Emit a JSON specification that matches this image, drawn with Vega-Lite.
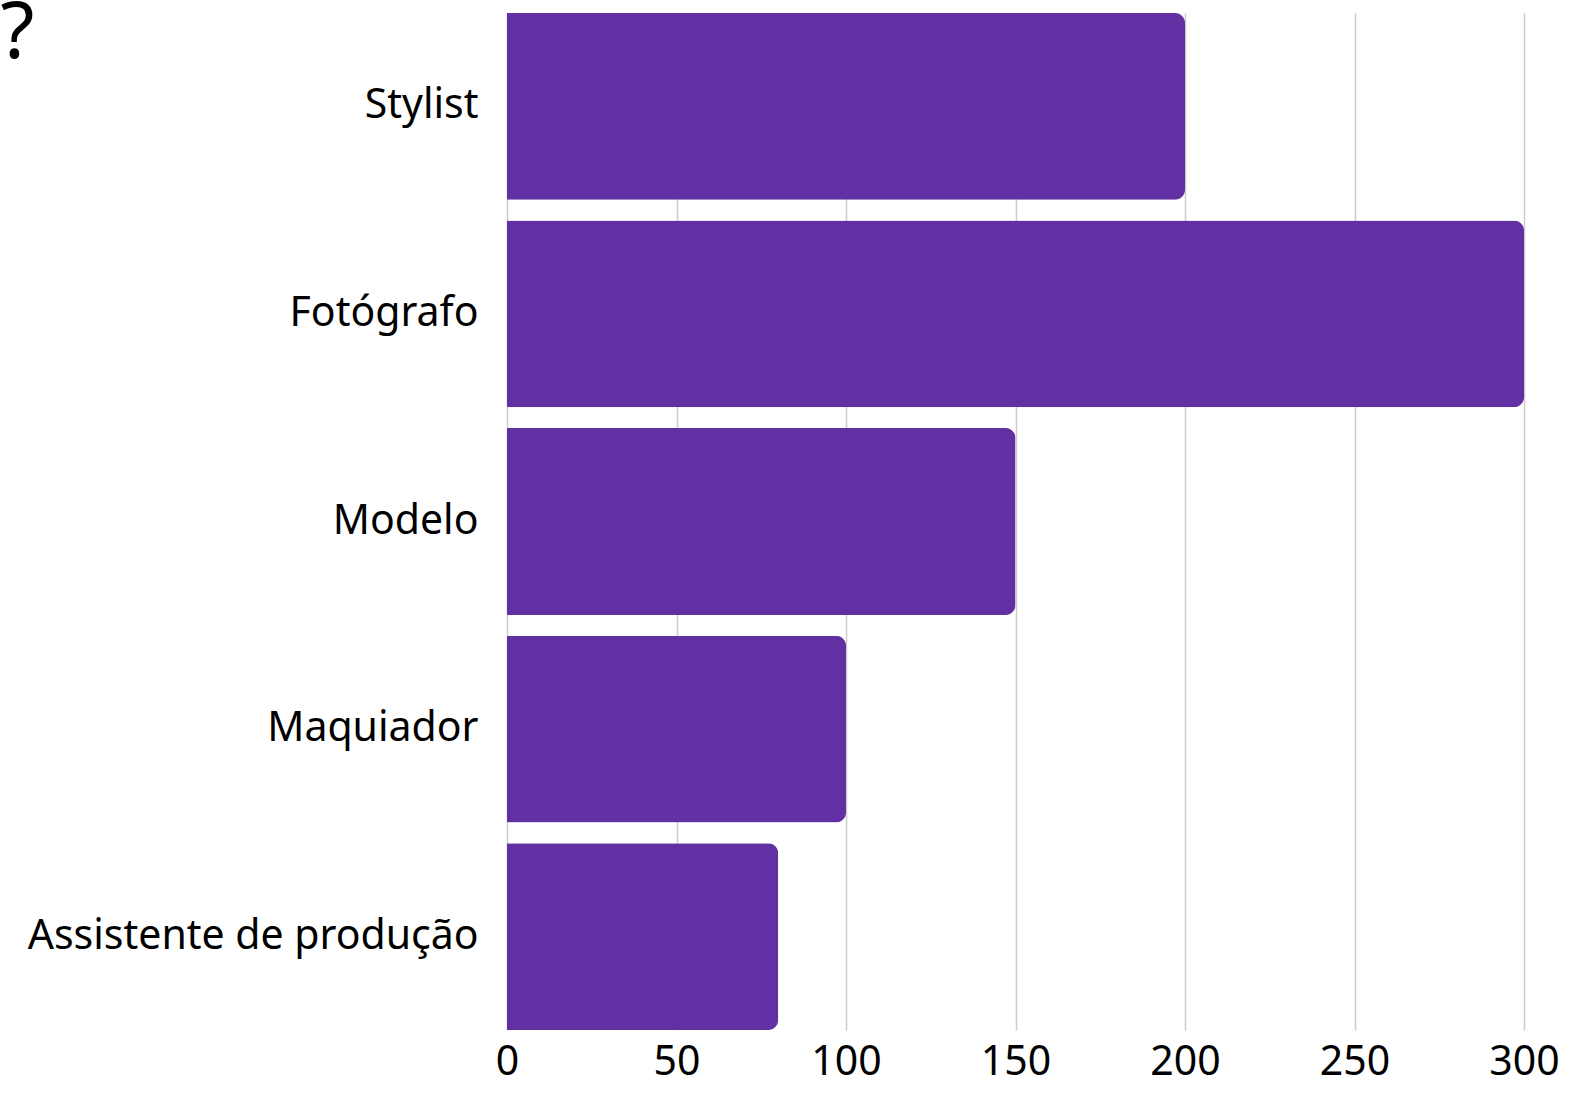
{
  "$schema": "https://vega.github.io/schema/vega-lite/v6.json",
  "autosize": {"type": "none"},
  "padding": {"left": 507, "top": 13, "right": 71, "bottom": 73},
  "width": 1017,
  "height": 1017,
  "background": "white",
  "data": {
    "values": [
      {"role": "Stylist", "value": 200},
      {"role": "Fotógrafo", "value": 300},
      {"role": "Modelo", "value": 150},
      {"role": "Maquiador", "value": 100},
      {"role": "Assistente de produção", "value": 80}
    ]
  },
  "mark": {"type": "bar", "color": "#6130a2", "cornerRadiusEnd": 10},
  "encoding": {
    "y": {
      "field": "role",
      "type": "nominal",
      "sort": null,
      "scale": {"paddingInner": 0.1, "paddingOuter": 0},
      "axis": {
        "title": "?",
        "titleFont": "Noto Sans",
        "titleFontSize": 78,
        "titleFontWeight": "normal",
        "titleColor": "#000000",
        "titleAngle": 0,
        "titleAlign": "left",
        "titleBaseline": "alphabetic",
        "titleX": -507,
        "titleY": 44,
        "domain": false,
        "ticks": false,
        "grid": false,
        "labelFont": "Noto Sans",
        "labelFontSize": 41,
        "labelColor": "#000000",
        "labelPadding": 29,
        "labelLimit": 600
      }
    },
    "x": {
      "field": "value",
      "type": "quantitative",
      "scale": {"domain": [0, 300], "nice": false},
      "axis": {
        "title": null,
        "domain": false,
        "ticks": false,
        "values": [0, 50, 100, 150, 200, 250, 300],
        "grid": true,
        "gridColor": "#cccccc",
        "gridWidth": 1.5,
        "labelFont": "Noto Sans",
        "labelFontSize": 41,
        "labelColor": "#000000",
        "labelPadding": 12,
        "labelFlush": false
      }
    }
  },
  "config": {"view": {"stroke": null}}
}
